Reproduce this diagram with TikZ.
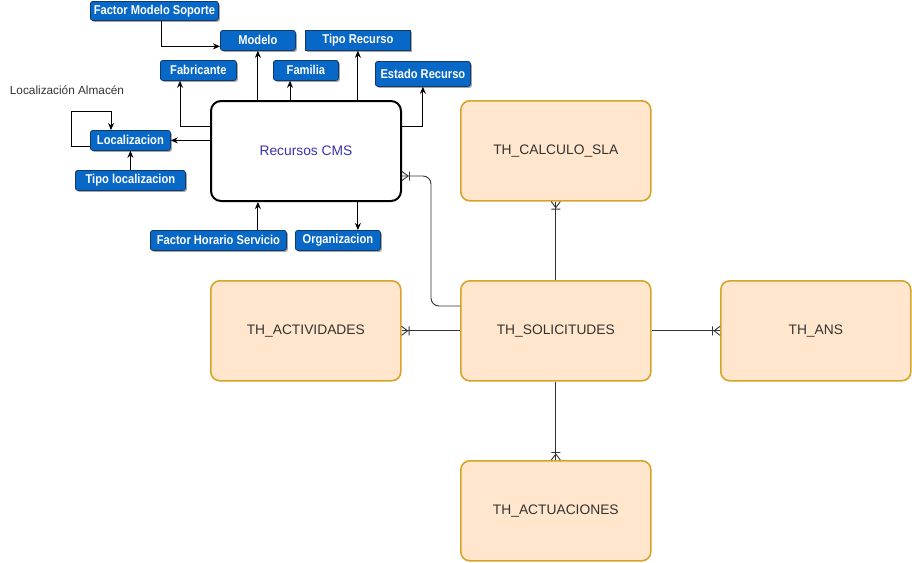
\documentclass[tikz,border=0pt]{standalone}
\usepackage{fontspec}
\setmainfont{Liberation Sans}
\newfontfamily\boxfont[FakeStretch=0.87]{Liberation Sans}
\usetikzlibrary{arrows.meta,shadows}

\definecolor{bfill}{HTML}{0868C8}
\definecolor{bborder}{HTML}{0F3A6B}
\definecolor{ofill}{HTML}{FFE6CC}
\definecolor{ostroke}{HTML}{D7A32A}
\definecolor{cmstext}{HTML}{3A32A8}
\definecolor{tgray}{HTML}{333333}
\definecolor{lgray}{HTML}{333333}

\pgfdeclarearrow{
  name=CrowBar,
  setup code={
    \pgfarrowssettipend{0pt}
    \pgfarrowssetbackend{-8pt}
    \pgfarrowssetlineend{0pt}
    \pgfarrowsupperhullpoint{0pt}{4.5pt}
    \pgfarrowsupperhullpoint{-8pt}{4.5pt}
  },
  drawing code={
    \pgfsetdash{}{0pt}
    \pgfpathmoveto{\pgfpoint{-6pt}{0pt}}
    \pgfpathlineto{\pgfpoint{0pt}{4.5pt}}
    \pgfpathmoveto{\pgfpoint{-6pt}{0pt}}
    \pgfpathlineto{\pgfpoint{0pt}{-4.5pt}}
    \pgfpathmoveto{\pgfpoint{-7.5pt}{4.5pt}}
    \pgfpathlineto{\pgfpoint{-7.5pt}{-4.5pt}}
    \pgfusepathqstroke
  }
}

\tikzset{
  bluebox/.style={draw=bborder, fill=bfill, rounded corners=2.5pt, text=white,
    font=\boxfont\fontsize{12.8}{13}\selectfont\bfseries, inner sep=0pt, anchor=north west,
    line width=0.8pt,
    drop shadow={shadow xshift=1.5pt, shadow yshift=-1.5pt, fill=black, opacity=0.35}},
  orangebox/.style={draw=ostroke, fill=ofill, rounded corners=9pt, line width=1.6pt,
    minimum width=190pt, minimum height=100pt, anchor=north west, inner sep=0pt,
    font=\fontsize{13.8}{15}\selectfont, text=tgray},
  cmsbox/.style={draw=black, fill=white, rounded corners=10pt, line width=2pt,
    minimum width=190pt, minimum height=100pt, anchor=north west, inner sep=0pt,
    font=\fontsize{13.8}{15}\selectfont, text=cmstext},
  arr/.style={draw=black, line width=0.9pt, -{Stealth[length=7pt,width=6pt]}},
  erline/.style={draw=lgray, line width=0.9pt, -{CrowBar}},
}

\begin{document}
\begin{tikzpicture}[x=1pt,y=-1pt]
\useasboundingbox[fill=white] (0,0) rectangle (912,562);

% blue boxes
\node[bluebox, minimum width=128pt, minimum height=19pt] (FMS) at (90,1) {Factor Modelo Soporte};
\node[bluebox, minimum width=75pt, minimum height=20pt] (Modelo) at (220,30) {Modelo};
\node[bluebox, sharp corners, minimum width=105pt, minimum height=20pt] (TR) at (305,30) {Tipo Recurso};
\node[bluebox, minimum width=76pt, minimum height=20pt] (Fab) at (160,60) {Fabricante};
\node[bluebox, minimum width=65pt, minimum height=20pt] (Fam) at (273,60) {Familia};
\node[bluebox, minimum width=95pt, minimum height=25pt] (Est) at (375,61) {Estado Recurso};
\node[bluebox, minimum width=80pt, minimum height=20pt] (Loc) at (90,130) {Localizacion};
\node[bluebox, minimum width=110pt, minimum height=20pt] (TL) at (75,170) {Tipo localizacion};
\node[bluebox, minimum width=136pt, minimum height=20pt] (FHS) at (150,230) {Factor Horario Servicio};
\node[bluebox, minimum width=85pt, minimum height=20pt] (Org) at (295,230) {Organizacion};

\node[font=\fontsize{11.8}{13}\selectfont, text=tgray] (LA) at (67,90) {Localización Almacén};

% central + orange boxes
\node[cmsbox] (CMS) at (210,100) {Recursos CMS};
\node[orangebox] (SLA) at (460,100) {TH\_CALCULO\_SLA};
\node[orangebox] (ACT) at (210,280) {TH\_ACTIVIDADES};
\node[orangebox] (SOL) at (460,280) {TH\_SOLICITUDES};
\node[orangebox] (ANS) at (720,280) {TH\_ANS};
\node[orangebox] (ACTU) at (460,460) {TH\_ACTUACIONES};

% helper coordinates
\coordinate (xfam) at (290,0);
\coordinate (yside) at (0,126);
\coordinate (xfab) at (180,0);
\coordinate (ysol) at (0,306);
\coordinate (bend) at (431,176);

% arrows
\draw[arr] ([xshift=71pt]FMS.south west) |- ([yshift=-6pt]Modelo.west);
\draw[arr] (CMS.north -| Modelo.south) -- (Modelo.south);
\draw[arr] (CMS.north -| xfam) -- (Fam.south -| xfam);
\draw[arr] (CMS.north -| TR.south) -- (TR.south);
\draw[arr] (CMS.west |- yside) -| (Fab.south -| xfab);
\draw[arr] (CMS.east |- yside) -| (Est.south);
\draw[arr] (CMS.west |- Loc.east) -- (Loc.east);
\draw[arr] ([yshift=-6pt]Loc.west) -- ++(-19,0) -- ++(0,-35) -| ([xshift=21pt]Loc.north west);
\draw[arr] (TL.north) -- (Loc.south);
\draw[arr] (FHS.north -| Modelo.south) -- (CMS.south -| Modelo.south);
\draw[arr] (CMS.south -| TR.south) -- (Org.north -| TR.south);

% ER connectors
\draw[erline, rounded corners=8pt] (SOL.west |- ysol) -| (bend) -- (CMS.east |- bend);
\draw[erline] (SOL.north) -- (SLA.south);
\draw[erline] (SOL.west) -- (ACT.east);
\draw[erline] (SOL.east) -- (ANS.west);
\draw[erline] (SOL.south) -- (ACTU.north);
\end{tikzpicture}
\end{document}
